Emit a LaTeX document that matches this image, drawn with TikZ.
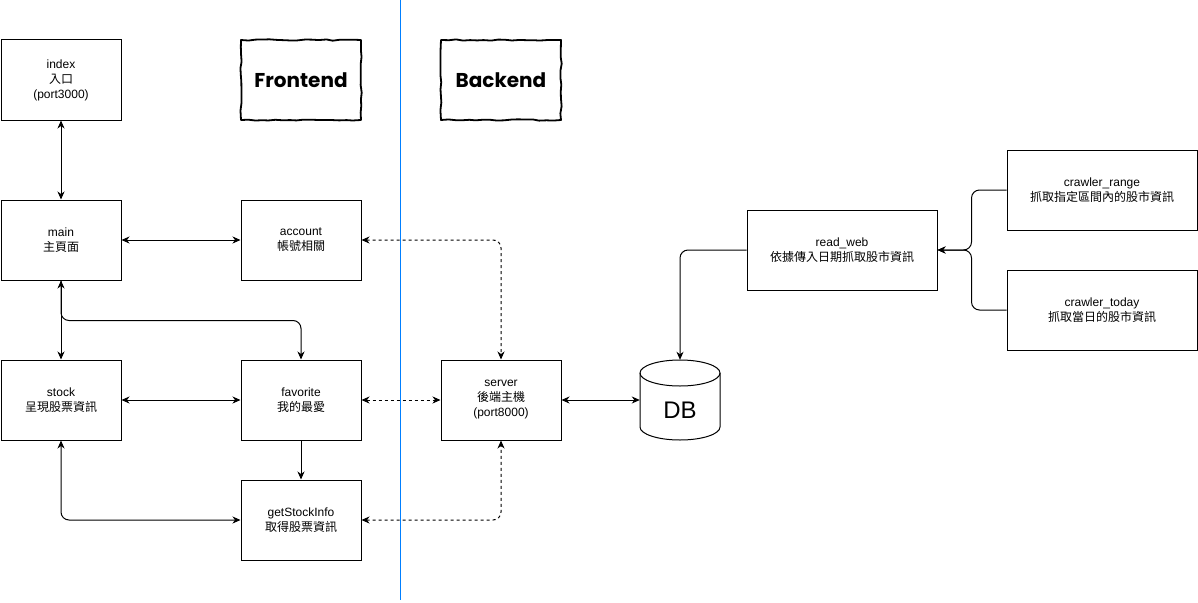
\documentclass[tikz,border=0pt]{standalone}
\usepackage{fontspec}
\setmainfont{Liberation Sans}
\newfontfamily\cjk{Noto Sans CJK TC}
\newfontfamily\handfont{Poppins}
\usetikzlibrary{arrows.meta,decorations.pathmorphing}
\definecolor{divider}{HTML}{007FFF}
\tikzset{
  box/.style={draw, line width=1pt, minimum width=120pt, minimum height=80pt, inner sep=0pt, align=center, font=\fontsize{12}{15}\selectfont, fill=white},
  widebox/.style={box, minimum width=190pt},
  sketchbox/.style={draw, line width=1.8pt, line join=round, minimum width=120pt, minimum height=80pt, inner sep=0pt,
    decorate, decoration={random steps, segment length=7pt, amplitude=0.7pt},
    font=\handfont\bfseries\fontsize{20}{22}\selectfont},
  conn/.style={line width=1pt, rounded corners=8pt},
  arr/.style={conn, -{Stealth[length=8pt,width=7pt,inset=2.5pt]}},
  biarr/.style={conn, {Stealth[length=8pt,width=7pt,inset=2.5pt]}-{Stealth[length=8pt,width=7pt,inset=2.5pt]}},
  dbiarr/.style={biarr, dash pattern=on 3pt off 3pt}
}
\begin{document}
\begin{tikzpicture}[x=1pt,y=-1pt]
\useasboundingbox (0,0) rectangle (1198,602);
% divider
\draw[divider, line width=1pt] (400,0) coordinate (dtop) -- (400,600) coordinate (dbot);
% nodes
\node[box] (index) at (61,80) {index\\{\cjk 入口}\\(port3000)};
\node[box] (main) at (61,240) {main\\{\cjk 主頁面}};
\node[box] (account) at (301,240) {account\\{\cjk 帳號相關}};
\node[box] (stock) at (61,400) {stock\\{\cjk 呈現股票資訊}};
\node[box] (favorite) at (301,400) {favorite\\{\cjk 我的最愛}};
\node[box] (getinfo) at (301,520) {getStockInfo\\{\cjk 取得股票資訊}};
\node[box] (server) at (501,400) {server\\{\cjk 後端主機}\\(port8000)};
\node[sketchbox] (front) at (301,80) {Frontend};
\node[sketchbox] (back) at (501,80) {Backend};
\node[widebox] (readweb) at (842,250) {read\_web\\{\cjk 依據傳入日期抓取股市資訊}};
\node[widebox] (crange) at (1102,190) {crawler\_range\\{\cjk 抓取指定區間內的股市資訊}};
\node[widebox] (ctoday) at (1102,310) {crawler\_today\\{\cjk 抓取當日的股市資訊}};
% DB cylinder
\node[minimum width=80pt, minimum height=80pt, inner sep=0pt] (db) at (680,400) {};
\filldraw[fill=white, line width=1pt] (640,373) -- (640,427) arc[start angle=180, end angle=0, x radius=40, y radius=13] -- (720,373) arc[start angle=0, end angle=-180, x radius=40, y radius=13] -- cycle;
\draw[line width=1pt] (640,373) arc[start angle=180, end angle=0, x radius=40, y radius=13];
\node[font=\fontsize{24}{26}\selectfont] (dblabel) at (680,410) {DB};
% connectors
\draw[biarr] (index) -- (main);
\draw[biarr] (main) -- (account);
\draw[biarr] (main) -- (stock);
\draw[arr] (main.south) -- ++(0,40) -| (favorite.north);
\draw[biarr] (stock) -- (favorite);
\draw[arr] (favorite) -- (getinfo);
\draw[biarr] (stock.south) |- (getinfo.west);
\draw[dbiarr] (favorite) -- (server);
\draw[dbiarr] (account.east) -| (server.north);
\draw[dbiarr] (getinfo.east) -| (server.south);
\draw[biarr] (server) -- (db);
\draw[arr] (readweb.west) -| (db.north);
\draw[arr] (crange.west) -- ++(-35,0) |- (readweb.east);
\draw[arr] (ctoday.west) -- ++(-35,0) |- (readweb.east);
\end{tikzpicture}
\end{document}
